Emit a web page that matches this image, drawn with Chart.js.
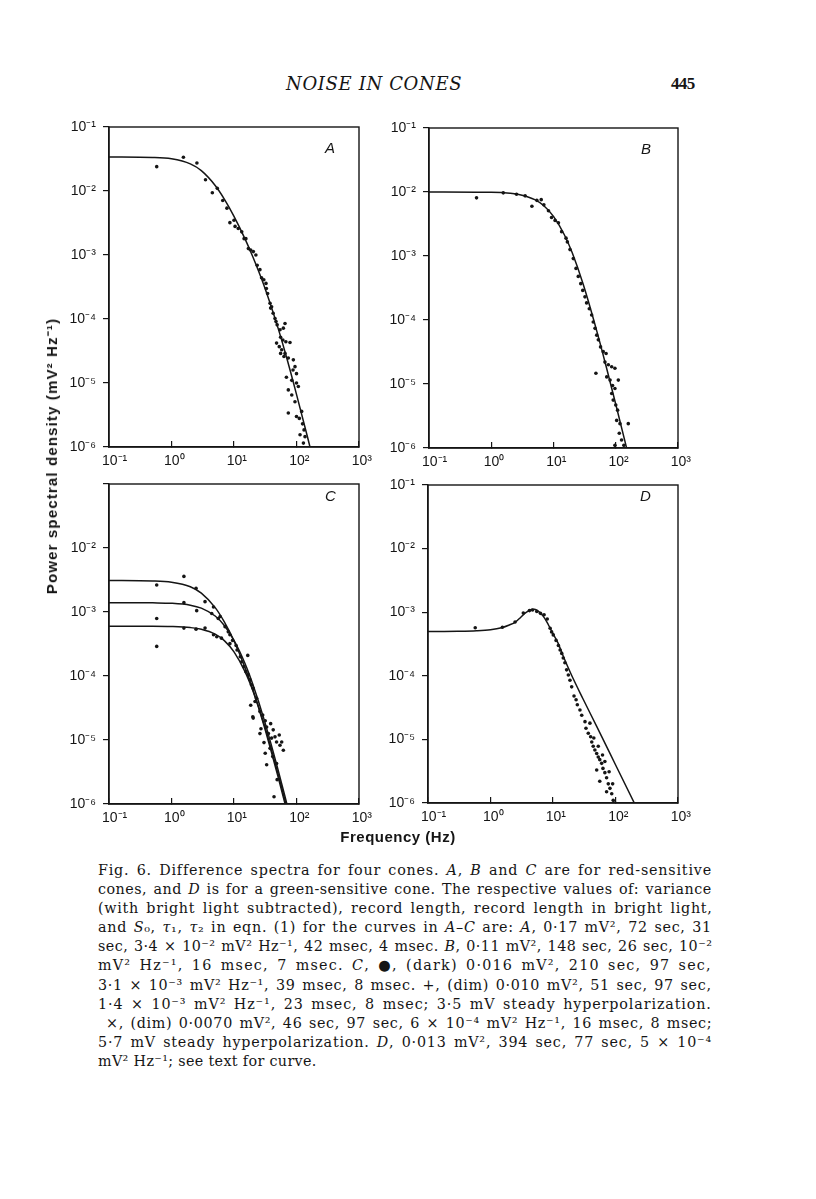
<!DOCTYPE html>
<html>
<head>
<meta charset="utf-8">
<title>Noise in cones – Fig. 6</title>
<script src="https://cdn.jsdelivr.net/npm/chart.js@4.4.1/dist/chart.umd.min.js"></script>
<style>
  body { margin: 0; background: #fff; }
  #page { position: relative; width: 816px; height: 1199px; overflow: hidden; color: #151515; }
  canvas { position: absolute; }
  .txt { position: absolute; white-space: nowrap; line-height: 1; }
  .head { font: italic 18px 'DejaVu Serif', serif; left: 286px; top: 72.5px; }
  .folio { font: bold 17px 'Liberation Serif', serif; left: 671px; top: 73.5px; }
  .panel { font: italic 15px 'Liberation Sans', Arial, sans-serif; }
  .axt { font: bold 15px 'Liberation Sans', Arial, sans-serif; }
  #ytitle { left: 51px; top: 456px; transform: translate(-50%, -50%) rotate(-90deg); }
  #xtitle { left: 398px; top: 836px; transform: translate(-50%, -50%); }
  #caption { position: absolute; left: 98px; top: 861px; width: 614px; font: 14.3px 'DejaVu Serif', serif; }
  #caption .ln { height: 19.1px; line-height: 19.1px; white-space: nowrap; }
  #caption .ln span { display: inline-block; }
</style>
</head>
<body>
<div id="page">
  <div class="txt head">NOISE IN CONES</div>
  <div class="txt folio">445</div>

  <canvas id="chartA" width="340" height="370" style="left:49px;top:107px"></canvas>
  <canvas id="chartB" width="339" height="370" style="left:369px;top:108px"></canvas>
  <canvas id="chartC" width="340" height="370" style="left:49px;top:464px"></canvas>
  <canvas id="chartD" width="340" height="368" style="left:368px;top:465px"></canvas>

  <div class="txt panel" style="left:325px;top:139px">A</div>
  <div class="txt panel" style="left:641px;top:140px">B</div>
  <div class="txt panel" style="left:325px;top:487px">C</div>
  <div class="txt panel" style="left:640px;top:487px">D</div>

  <div class="txt axt" id="ytitle">Power spectral density (mV² Hz⁻¹)</div>
  <div class="txt axt" id="xtitle">Frequency (Hz)</div>

  <div id="caption">
    <div class="ln"><span>Fig. 6. Difference spectra for four cones. <i>A</i>, <i>B</i> and <i>C</i> are for red-sensitive</span></div>
    <div class="ln"><span>cones, and <i>D</i> is for a green-sensitive cone. The respective values of: variance</span></div>
    <div class="ln"><span>(with bright light subtracted), record length, record length in bright light,</span></div>
    <div class="ln"><span>and <i>S</i>₀, <i>τ</i>₁, <i>τ</i>₂ in eqn. (1) for the curves in <i>A–C</i> are: <i>A</i>, 0·17 mV², 72 sec, 31</span></div>
    <div class="ln"><span>sec, 3·4 × 10⁻² mV² Hz⁻¹, 42 msec, 4 msec. <i>B</i>, 0·11 mV², 148 sec, 26 sec, 10⁻²</span></div>
    <div class="ln"><span>mV² Hz⁻¹, 16 msec, 7 msec. <i>C</i>, ●, (dark) 0·016 mV², 210 sec, 97 sec,</span></div>
    <div class="ln"><span>3·1 × 10⁻³ mV² Hz⁻¹, 39 msec, 8 msec. +, (dim) 0·010 mV², 51 sec, 97 sec,</span></div>
    <div class="ln"><span>1·4 × 10⁻³ mV² Hz⁻¹, 23 msec, 8 msec; 3·5 mV steady hyperpolarization.</span></div>
    <div class="ln" style="padding-left:8px"><span>×, (dim) 0·0070 mV², 46 sec, 97 sec, 6 × 10⁻⁴ mV² Hz⁻¹, 16 msec, 8 msec;</span></div>
    <div class="ln"><span>5·7 mV steady hyperpolarization. <i>D</i>, 0·013 mV², 394 sec, 77 sec, 5 × 10⁻⁴</span></div>
    <div class="ln last"><span>mV² Hz⁻¹; see text for curve.</span></div>
  </div>
</div>

<script>
// axis ticks (decades only)
const xTicks = [0.1, 1, 10, 100, 1000];
const xTickLabels = ['10⁻¹', '10⁰', '10¹', '10²', '10³'];
const yTicks = [1e-6, 1e-5, 1e-4, 1e-3, 1e-2, 1e-1];
const yTickLabels = ['10⁻⁶', '10⁻⁵', '10⁻⁴', '10⁻³', '10⁻²', '10⁻¹'];
const yTickLabelsC = ['10⁻⁶', '10⁻⁵', '10⁻⁴', '10⁻³', '10⁻²', ''];

// A – red-sensitive cone
const aFreq = [0.58, 1.55, 2.55, 3.5, 4.5, 5.4, 6.6, 7.7, 8.6, 10, 10.4, 11.7, 13.3, 14.5, 15.5, 17, 18.5, 20.4, 22.4, 23.5,
  26, 27.6, 30, 32.5, 33, 34.5, 37.7, 38.5, 40, 42.3, 45.3, 47, 49, 54.5, 61.6, 55.7, 60.5, 48, 53, 58,
  55.7, 65.5, 78.7, 67.6, 63, 74, 89, 94.6, 88, 100, 69, 84, 74, 84, 100, 107, 94.6, 74, 100, 111,
  121, 125, 114, 132, 137, 129, 65.5];
const aPsd = [0.024, 0.0336, 0.0274, 0.015, 0.0094, 0.011, 0.0071, 0.0054, 0.0032, 0.0035, 0.0028, 0.0026, 0.0023, 0.0018, 0.0018, 0.00126, 0.0012, 0.00113, 0.001, 6.9e-4,
  5.9e-4, 4.4e-4, 4.1e-4, 3.6e-4, 3.0e-4, 2.5e-4, 1.76e-4, 1.48e-4, 1.55e-4, 1.23e-4, 1.02e-4, 9.1e-5, 8.1e-5, 6.8e-5, 7.2e-5, 5.2e-5, 4.7e-5, 4.2e-5, 3.7e-5, 3.3e-5,
  2.9e-5, 2.9e-5, 4.3e-5, 4.4e-5, 2.6e-5, 2.46e-5, 2.3e-5, 1.8e-5, 1.6e-5, 1.4e-5, 1.23e-5, 1.1e-5, 7.8e-6, 6.5e-6, 1.0e-5, 8.8e-6, 5.1e-6, 3.4e-6, 3.0e-6, 2.8e-6,
  3.6e-6, 2.3e-6, 1.55e-6, 1.85e-6, 1.45e-6, 1.15e-6, 8.5e-5];
const aFitFreq = [0.1, 0.5, 1, 2, 3, 5, 7, 10, 15, 20, 30, 50, 70, 100, 150, 200];
const aFitPsd = [0.034, 0.0334, 0.0318, 0.0265, 0.0208, 0.0122, 0.00748, 0.00402, 0.00179, 9.41e-4, 3.4e-4, 7.53e-5, 2.43e-5, 6.65e-6, 1.43e-6, 4.65e-7];

// B – red-sensitive cone
const bFreq = [0.58, 1.56, 2.55, 3.5, 4.5, 5.4, 6.35, 7.0, 8.3, 9.3, 10.6, 12, 13.5, 15.9, 16.7, 18.4, 20.8, 23, 25, 27.4,
  29.5, 32, 34, 37.6, 41, 43.5, 46.5, 49.5, 52.5, 57, 63, 70, 48, 67, 76, 86, 97, 71.6, 81, 89,
  97, 86, 91, 100, 107, 103.5, 117, 159, 114, 124, 135, 97, 110];
const bPsd = [0.0081, 0.0097, 0.0092, 0.0087, 0.006, 0.0074, 0.0076, 0.0063, 0.0051, 0.004, 0.0036, 0.0033, 0.0024, 0.0019, 0.00166, 0.00126, 9.1e-4, 6.4e-4, 4.8e-4, 3.7e-4,
  2.9e-4, 2.3e-4, 1.85e-4, 1.5e-4, 1.2e-4, 9.3e-5, 7.4e-5, 5.8e-5, 4.9e-5, 3.8e-5, 3.2e-5, 3.0e-5, 1.47e-5, 2.2e-5, 2.0e-5, 1.86e-5, 1.76e-5, 1.29e-5, 1.15e-5, 9.5e-6,
  8.5e-6, 7.1e-6, 5.6e-6, 4.7e-6, 3.9e-6, 2.7e-6, 2.4e-6, 2.4e-6, 1.7e-6, 1.33e-6, 1.1e-6, 1.1e-6, 1.15e-5];
const bFitFreq = [0.1, 1, 2, 3, 5, 7, 10, 15, 20, 30, 50, 70, 100, 150, 200];
const bFitPsd = [0.01, 0.00988, 0.00954, 0.00901, 0.00761, 0.00611, 0.00417, 0.00213, 0.00112, 3.61e-4, 6.52e-5, 1.89e-5, 4.82e-6, 9.83e-7, 3.15e-7];

// C – dark, dim (+) and dim (x) records of one red-sensitive cone
const cFreq = [0.58, 0.58, 0.58, 1.58, 1.58, 1.58, 2.47, 2.53, 2.47, 3.44, 3.44, 4.7, 4.7, 4.4, 5.6, 6.0, 5.3, 6.3, 7.2, 8.1,
  8.6, 9.5, 8.6, 10.8, 11.2, 12.6, 13.3, 16.6, 14.4, 15.5, 17, 18, 19, 20.3, 18.5, 21.7, 20, 23, 26, 28.8,
  27, 31.6, 33.3, 35.5, 38.6, 42.4, 45.3, 48, 53, 58, 61.6, 54.4, 31.6, 33.3, 37.7, 41.7, 48, 49, 43.7, 40,
  26, 30.2, 20.3];
const cPsd = [2.64e-3, 7.9e-4, 2.9e-4, 3.6e-3, 1.4e-3, 5.6e-4, 2.35e-3, 1.05e-3, 5.4e-4, 1.45e-3, 5.6e-4, 1.2e-3, 4.4e-4, 9.5e-4, 7.9e-4, 8.5e-4, 4.1e-4, 3.9e-4, 5.9e-4, 4.9e-4,
  4.4e-4, 3.6e-4, 3.2e-4, 3.0e-4, 2.55e-4, 2.0e-4, 1.67e-4, 2.1e-4, 1.4e-4, 1.17e-4, 1.04e-4, 8.7e-5, 7.3e-5, 6.4e-5, 3.5e-5, 4.0e-5, 2.3e-5, 4.5e-5, 2.8e-5, 2.45e-5,
  1.5e-5, 2.0e-5, 1.6e-5, 1.26e-5, 1.8e-5, 1.44e-5, 1.12e-5, 9.3e-6, 1.2e-5, 9.3e-6, 6.9e-6, 8.3e-6, 6.2e-6, 4.1e-6, 7.4e-6, 5.5e-6, 4.3e-6, 2.4e-6, 1.3e-6, 1.07e-5,
  1.26e-5, 9.1e-6, 2.2e-5];
const cFitFreq = [0.1, 0.5, 1, 2, 3, 5, 7, 10, 15, 20, 30, 50, 70, 100];
const cFitDark = [3.1e-3, 3.05e-3, 2.92e-3, 2.48e-3, 1.97e-3, 1.17e-3, 7.0e-4, 3.53e-4, 1.36e-4, 6.16e-5, 1.72e-5, 2.8e-6, 7.85e-7, 1.96e-7];
const cFitDimPlus = [1.4e-3, 1.39e-3, 1.37e-3, 1.28e-3, 1.15e-3, 8.65e-4, 6.16e-4, 3.62e-4, 1.57e-4, 7.44e-5, 2.16e-5, 3.6e-6, 1.01e-6, 2.54e-7];
const cFitDimCross = [6.0e-4, 5.99e-4, 5.93e-4, 5.71e-4, 5.38e-4, 4.51e-4, 3.57e-4, 2.38e-4, 1.17e-4, 5.92e-5, 1.82e-5, 3.12e-6, 8.9e-7, 2.24e-7];

// D – green-sensitive cone
const dFreq = [0.57, 1.55, 2.47, 3.35, 4.2, 4.7, 5.5, 6.3, 7.2, 8.1, 9.0, 9.5, 10.1, 11.2, 12.2, 13, 13.8, 14.6, 15.5, 16.5,
  17.6, 18.7, 19.9, 21.7, 23.4, 24.5, 27, 28.8, 32.5, 33.7, 36.7, 40, 41.7, 44, 46.8, 50, 53, 56, 60, 63,
  67.6, 72, 76.7, 81.5, 87, 92, 50, 56, 72, 39, 45, 53, 62, 67.6, 79, 90, 98];
const dPsd = [5.7e-4, 5.8e-4, 7.0e-4, 9.7e-4, 1.06e-3, 1.08e-3, 1.03e-3, 9.6e-4, 9.1e-4, 7.8e-4, 5.6e-4, 4.9e-4, 4.4e-4, 3.6e-4, 3.0e-4, 2.55e-4, 2.25e-4, 1.9e-4, 1.6e-4, 1.24e-4,
  1.03e-4, 8.5e-5, 6.7e-5, 4.8e-5, 4.2e-5, 3.5e-5, 2.9e-5, 2.4e-5, 1.9e-5, 1.5e-5, 1.25e-5, 1.1e-5, 9.1e-6, 7.8e-6, 6.8e-6, 6.0e-6, 5.3e-6, 4.8e-6, 4.2e-6, 3.5e-6,
  3.0e-6, 2.5e-6, 2.0e-6, 1.7e-6, 1.4e-6, 1.1e-6, 3.3e-6, 2.2e-6, 1.5e-6, 1.8e-5, 1.05e-5, 7.8e-6, 5.7e-6, 4.5e-6, 3.1e-6, 2.0e-6, 1.0e-6];
const dFitFreq = [0.1, 0.3, 0.6, 1, 1.5, 2, 2.5, 3, 3.5, 4, 4.5, 5, 5.5, 6, 7, 8, 9, 10, 12, 15, 20, 30, 50, 100, 200];
const dFitPsd = [4.95e-4, 5.0e-4, 5.1e-4, 5.3e-4, 5.7e-4, 6.3e-4, 7.0e-4, 8.2e-4, 9.5e-4, 1.04e-3, 1.1e-3, 1.11e-3, 1.08e-3, 1.01e-3, 8.6e-4, 7.0e-4, 5.6e-4, 4.6e-4, 3.3e-4, 1.9e-4, 1.0e-4, 4.4e-5, 1.6e-5, 4.0e-6, 1.0e-6];

const INK = '#151515';
const FONT = "'Liberation Sans', Arial, sans-serif";

Chart.defaults.animation = false;
Chart.defaults.font.family = FONT;

function pts(xs, ys) {
  return xs.map((x, i) => ({ x: x, y: ys[i] }));
}

// frame round the plotting area
const frame = {
  id: 'frame',
  afterDatasetsDraw(chart) {
    const { ctx, chartArea: a } = chart;
    ctx.save();
    ctx.strokeStyle = INK;
    ctx.lineWidth = 1.4;
    ctx.strokeRect(a.left, a.top, a.right - a.left, a.bottom - a.top);
    ctx.restore();
  }
};

function makePanel(id, dots, fits, yLabels) {
  const datasets = fits.map(ys => ({
    data: pts(ys[0], ys[1]),
    showLine: true,
    borderColor: INK,
    borderWidth: 1.5,
    pointRadius: 0,
    cubicInterpolationMode: 'monotone',
    clip: 0
  }));
  datasets.push({
    data: pts(dots[0], dots[1]),
    showLine: false,
    pointRadius: 1.8,
    pointBackgroundColor: INK,
    pointBorderWidth: 0
  });

  return new Chart(document.getElementById(id), {
    type: 'scatter',
    data: { datasets },
    options: {
      responsive: false,
      devicePixelRatio: 1,
      layout: { padding: { top: 20, right: 30, left: 0, bottom: 0 } },
      plugins: { legend: { display: false }, tooltip: { enabled: false } },
      scales: {
        x: {
          type: 'logarithmic',
          min: 0.1,
          max: 1000,
          afterBuildTicks: s => { s.ticks = xTicks.map(v => ({ value: v })); },
          afterFit: s => { s.height = 30; },
          ticks: {
            autoSkip: false,
            maxRotation: 0,
            padding: 12,
            color: INK,
            font: { size: 14 },
            callback: (v, i) => '\u2009'.repeat((xTickLabels[i].length - 2) * 2) + xTickLabels[i]
          },
          grid: { drawOnChartArea: false, tickLength: -6, color: INK, lineWidth: 1.2 },
          border: { color: INK, width: 1.4 }
        },
        y: {
          type: 'logarithmic',
          min: 1e-6,
          max: 1e-1,
          afterBuildTicks: s => { s.ticks = yTicks.map(v => ({ value: v })); },
          afterFit: s => { s.width = 60; },
          ticks: {
            autoSkip: false,
            padding: 7,
            color: INK,
            font: { size: 14 },
            callback: (v, i) => yLabels[i]
          },
          grid: { drawOnChartArea: false, tickLength: 6, color: INK, lineWidth: 1.2 },
          border: { color: INK, width: 1.4 }
        }
      }
    },
    plugins: [frame]
  });
}

makePanel('chartA', [aFreq, aPsd], [[aFitFreq, aFitPsd]], yTickLabels);
makePanel('chartB', [bFreq, bPsd], [[bFitFreq, bFitPsd]], yTickLabels);
makePanel('chartC', [cFreq, cPsd], [[cFitFreq, cFitDark], [cFitFreq, cFitDimPlus], [cFitFreq, cFitDimCross]], yTickLabelsC);
makePanel('chartD', [dFreq, dPsd], [[dFitFreq, dFitPsd]], yTickLabels);

// stretch text to the widths on the printed page
function fitLetters(el, target) {
  el.style.letterSpacing = '0px';
  const w = el.offsetWidth;
  el.style.letterSpacing = ((target - w) / el.textContent.length) + 'px';
}

function justify(span, target) {
  span.style.letterSpacing = '0px';
  span.style.wordSpacing = '0px';
  const gap = target - span.offsetWidth;
  const n = (span.textContent.match(/ /g) || []).length;
  const chars = span.textContent.length;
  span.style.letterSpacing = (gap * 0.7 / chars) + 'px';
  const left = target - span.offsetWidth;
  if (n) span.style.wordSpacing = (left / n) + 'px';
}

fitLetters(document.querySelector('.head'), 176);
fitLetters(document.querySelector('.folio'), 24);
fitLetters(document.getElementById('ytitle'), 276);
fitLetters(document.getElementById('xtitle'), 115);
document.querySelectorAll('#caption .ln').forEach(ln => {
  const span = ln.querySelector('span');
  if (ln.classList.contains('last')) {
    span.style.letterSpacing = '0.35px';
    return;
  }
  const pad = parseFloat(ln.style.paddingLeft || 0);
  justify(span, 614 - pad);
});
</script>
</body>
</html>
